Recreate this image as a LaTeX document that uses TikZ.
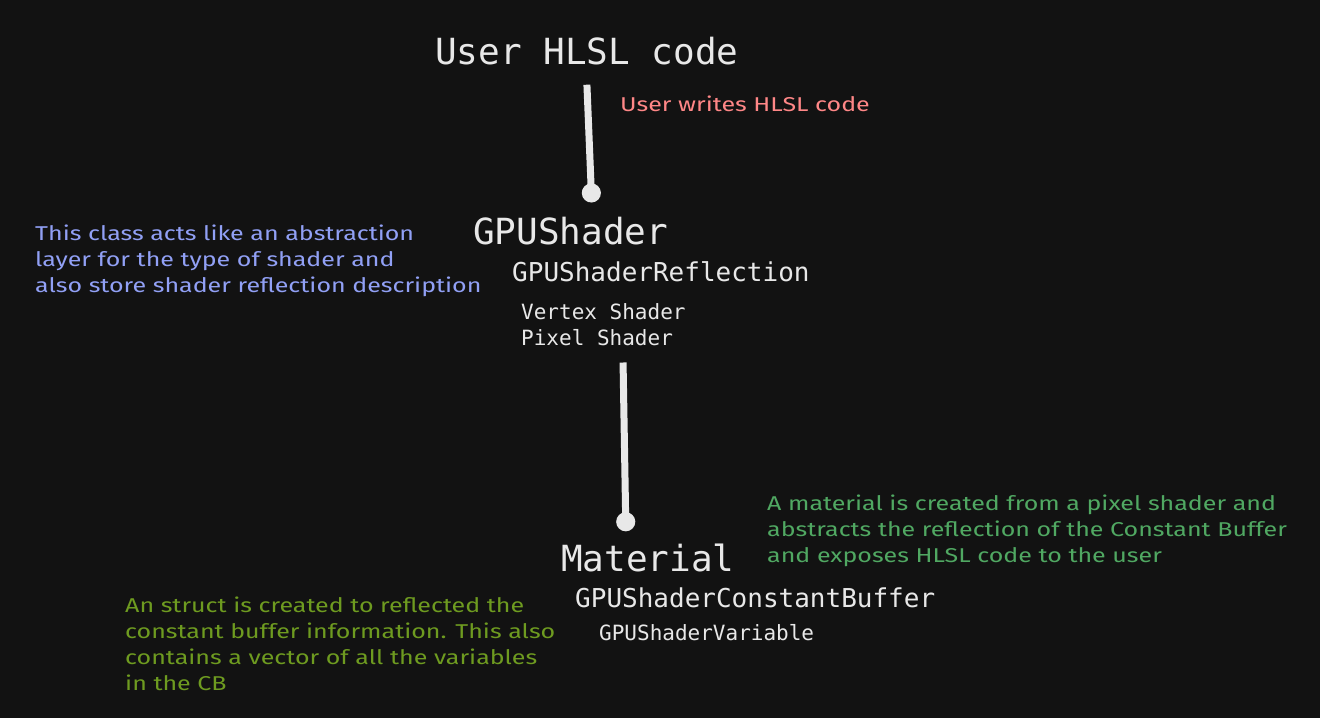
\documentclass[tikz,border=0pt]{standalone}
\usepackage{fontspec}
\usepackage{xcolor}
\usepackage{tikz}
\usetikzlibrary{arrows.meta, positioning, calc}
\setmonofont{DejaVu Sans Mono}
\newfontfamily\notefont[FakeStretch=1.25]{Fira Sans}
\definecolor{canvas}{RGB}{18, 18, 18}
\definecolor{inkwhite}{RGB}{232, 232, 232}
\definecolor{notered}{RGB}{255, 135, 135}
\definecolor{noteblue}{RGB}{145, 160, 245}
\definecolor{notegreen}{RGB}{80, 168, 98}
\definecolor{noteolive}{RGB}{110, 155, 32}
\tikzstyle{title} = [anchor=base west, inner sep=0pt, text=inkwhite, font=\ttfamily\fontsize{36}{40}\selectfont]
\tikzstyle{member} = [anchor=base west, inner sep=0pt, text=inkwhite, font=\ttfamily\fontsize{26}{30}\selectfont]
\tikzstyle{item} = [anchor=base west, inner sep=0pt, text=inkwhite, font=\ttfamily\fontsize{21}{26}\selectfont]
\tikzstyle{note} = [anchor=north west, inner sep=0pt, align=left, font=\notefont\fontsize{20}{26}\selectfont]
\tikzstyle{arrow} = [-{Circle[length=19pt]}, line width=7pt, draw=inkwhite]

\begin{document}
\begin{tikzpicture}[x=1pt, y=-1pt]
    % Background
    \fill[canvas] (0,0) rectangle (1320,718);

    % Main nodes
    \node[title] (hlsl) at (435, 64) {User HLSL code};
    \node[title] (shader) at (473, 244) {GPUShader};
    \node[member] (reflection) at (512, 281) {GPUShaderReflection};
    \node[item] (vertex) at (521, 319) {Vertex Shader};
    \node[item] (pixel) at (521, 345) {Pixel Shader};
    \node[title] (material) at (561, 571) {Material};
    \node[member] (cbuffer) at (575, 607) {GPUShaderConstantBuffer};
    \node[item] (variable) at (599, 640) {GPUShaderVariable};

    % Arrows
    \draw[arrow] ([yshift=-20pt]hlsl.south) -- ([xshift=21pt, yshift=14pt]shader.north);
    \draw[arrow] ([xshift=26pt, yshift=-17pt]pixel.south) -- ([xshift=-22pt, yshift=12pt]material.north);

    % Notes
    \node[note, text=notered] (writes) at (620, 96) {User writes HLSL code};
    \node[note, text=noteblue] (layer) at (35, 225) {
        This class acts like an abstraction\\
        layer for the type of shader and\\
        also store shader reflection description
    };
    \node[note, text=notegreen] (created) at (767, 495) {
        A material is created from a pixel shader and\\
        abstracts the reflection of the Constant Buffer\\
        and exposes HLSL code to the user
    };
    \node[note, text=noteolive] (struct) at (125, 597) {
        An struct is created to reflected the\\
        constant buffer information. This also\\
        contains a vector of all the variables\\
        in the CB
    };
\end{tikzpicture}
\end{document}
